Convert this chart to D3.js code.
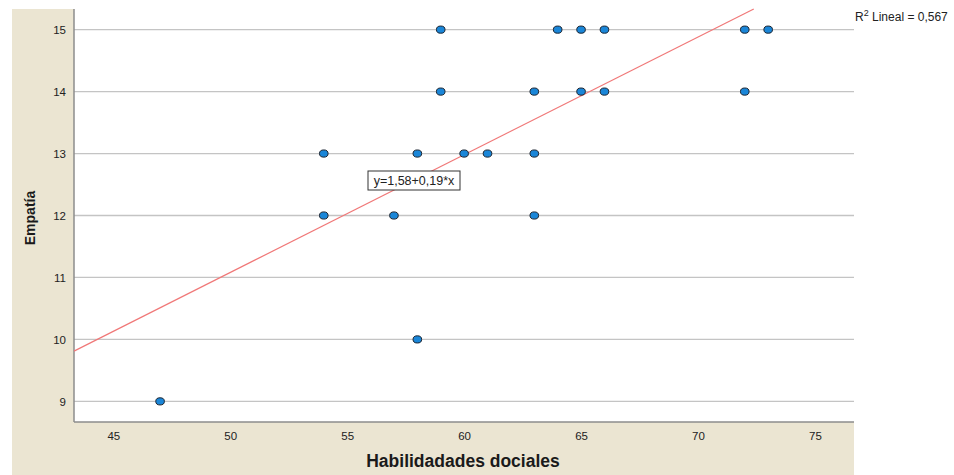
<!DOCTYPE html>
<html><head><meta charset="utf-8">
<script src="https://cdn.jsdelivr.net/npm/d3@7"></script>
<style>body{margin:0;background:#fff}svg{display:block}</style>
</head><body><svg id="c" width="954" height="475"></svg>
<script>
const habilidades = [47,54,54,57,58,58,59,59,60,61,63,63,63,64,65,66,65,66,72,73,72];
const empatia     = [ 9,13,12,12,13,10,15,14,13,13,14,13,12,15,15,15,14,14,15,15,14];
const xTicks = [45,50,55,60,65,70,75];
const yTicks = [9,10,11,12,13,14,15];
const fitIntercept = [1.58];
const fitSlope = [0.19];
const fitLabel = ["y=1,58+0,19*x"];
const r2Label = ["0,567"];

const svg = d3.select("#c");
const L=74, R=854, T=9, B=422;
const x = d3.scaleLinear().domain([43.32,76.67]).range([L,R]);
const y = d3.scaleLinear().domain([8.667,15.333]).range([B,T]);
const FONT = "Liberation Sans, Arial, sans-serif";

// beige frame
svg.append("rect").attr("x",12).attr("y",9).attr("width",R-12).attr("height",475-9).attr("fill","#ebe5d2");
svg.append("rect").attr("x",L).attr("y",0).attr("width",R-L).attr("height",B).attr("fill","#fff");

// gridlines
svg.append("g").selectAll("line").data(yTicks).join("line")
  .attr("x1",L).attr("x2",R).attr("y1",d=>y(d)).attr("y2",d=>y(d))
  .attr("stroke","#c4c4c4").attr("stroke-width",1.3);

// axes
const yAxis = svg.append("g").attr("transform",`translate(${L},0)`)
  .call(d3.axisLeft(y).tickValues(yTicks).tickFormat(d3.format("d")).tickSize(0).tickPadding(8));
yAxis.select(".domain").attr("d",`M0,${T}V${B}`).attr("stroke","#8c8c8c").attr("stroke-width",1.5);
yAxis.selectAll("text").attr("font-family",FONT).attr("font-size",11.5).attr("fill","#222");

const xAxis = svg.append("g").attr("transform",`translate(0,${B})`)
  .call(d3.axisBottom(x).tickValues(xTicks).tickFormat(d3.format("d")).tickSize(0).tickPadding(10));
xAxis.select(".domain").attr("d",`M${L},0H${R}`).attr("stroke","#8c8c8c").attr("stroke-width",1.5);
xAxis.selectAll("text").attr("font-family",FONT).attr("font-size",11.5).attr("fill","#222");

// fit line clipped to plot
const a=fitIntercept[0], b=fitSlope[0];
const x0 = x.domain()[0];
const xEnd = Math.min(x.domain()[1], (y.domain()[1]-a)/b);
svg.append("line")
  .attr("x1",x(x0)).attr("y1",y(a+b*x0)).attr("x2",x(xEnd)).attr("y2",y(a+b*xEnd))
  .attr("stroke","#f07878").attr("stroke-width",1.2);

// points
svg.append("g").selectAll("ellipse").data(habilidades.map((h,i)=>[h,empatia[i]])).join("ellipse")
  .attr("cx",d=>x(d[0])).attr("cy",d=>y(d[1])).attr("rx",4.3).attr("ry",3.6)
  .attr("fill","#1a86d8").attr("stroke","#1b2430").attr("stroke-width",1);

// equation label
const lx=368, ly=171;
svg.append("rect").attr("x",lx).attr("y",ly).attr("width",92).attr("height",19)
  .attr("fill","#fff").attr("stroke","#333").attr("stroke-width",1);
svg.append("text").attr("x",lx+46).attr("y",ly+14).attr("text-anchor","middle")
  .attr("font-family",FONT).attr("font-size",12.5).attr("fill","#222")
  .text(fitLabel[0]);

// R2 label
const r2 = svg.append("text").attr("x",855).attr("y",21)
  .attr("font-family",FONT).attr("font-size",12).attr("fill","#222");
r2.append("tspan").text("R");
r2.append("tspan").attr("dy",-5).attr("font-size",9).text("2");
r2.append("tspan").attr("dy",5).text(" Lineal = "+r2Label[0]);

// titles
svg.append("text").attr("x",463).attr("y",467).attr("text-anchor","middle")
  .attr("font-family",FONT).attr("font-weight","bold").attr("font-size",17.5).attr("fill","#1a1a1a")
  .text("Habilidadades dociales");
svg.append("text").attr("transform","translate(35,218) rotate(-90)").attr("text-anchor","middle")
  .attr("font-family","Liberation Sans Narrow, Liberation Sans, Arial, sans-serif").attr("font-weight","bold").attr("font-size",14).attr("fill","#1a1a1a")
  .text("Empatía");
</script></body></html>
